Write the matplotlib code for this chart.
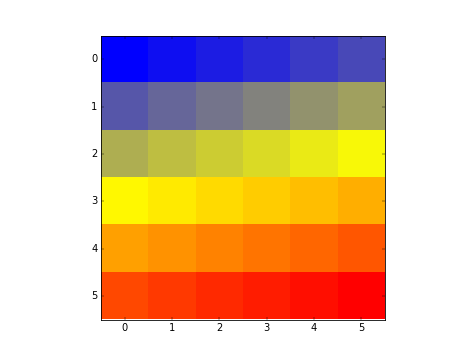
import matplotlib
matplotlib.use('Agg')
import matplotlib.pyplot as plt
from matplotlib.colors import LinearSegmentedColormap

# valeurs de la matrice
row0 = [0, 1, 2, 3, 4, 5]
row1 = [6, 7, 8, 9, 10, 11]
row2 = [12, 13, 14, 15, 16, 17]
row3 = [18, 19, 20, 21, 22, 23]
row4 = [24, 25, 26, 27, 28, 29]
row5 = [30, 31, 32, 33, 34, 35]
matrix = [row0, row1, row2, row3, row4, row5]

cmap_colors = ['blue', 'yellow', 'red']
tick_labels = ['0', '1', '2', '3', '4', '5']

plt.style.use('classic')
cmap = LinearSegmentedColormap.from_list('bleu_jaune_rouge', cmap_colors)

fig = plt.figure(figsize=(8, 355 / 59.25), dpi=59.25)
ax = fig.add_subplot(111)
ax.imshow(matrix, cmap=cmap, interpolation='nearest')
ax.set_xticks(range(len(tick_labels)))
ax.set_yticks(range(len(tick_labels)))
ax.set_xticklabels(tick_labels)
ax.set_yticklabels(tick_labels)

fig.savefig('out.png', dpi=59.25)
